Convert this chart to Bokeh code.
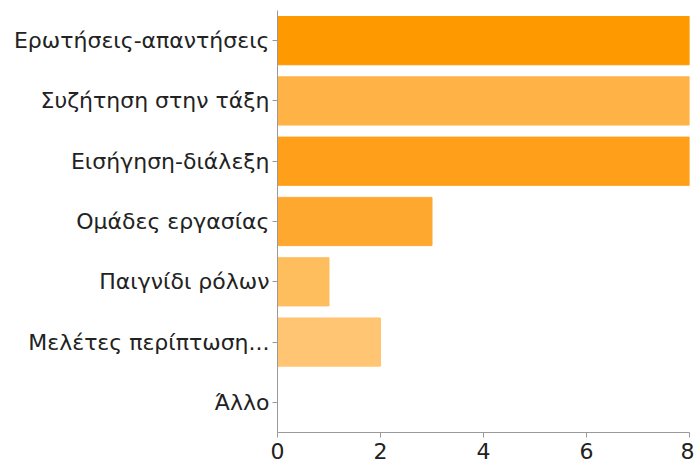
from bokeh.plotting import figure
from bokeh.embed import file_html
from bokeh.resources import INLINE
from bokeh.models import ColumnDataSource, FixedTicker

categories = ["Ερωτήσεις-απαντήσεις", "Συζήτηση στην τάξη", "Εισήγηση-διάλεξη",
              "Ομάδες εργασίας", "Παιγνίδι ρόλων", "Μελέτες περίπτωση...", "Άλλο"]
counts = [8, 8, 8, 3, 1, 2, 0]
x_ticks = [0, 2, 4, 6, 8]

bar_colors = ["#FF9900", "#FFB347", "#FF9F1A", "#FFA830", "#FFBE5E", "#FFC573", "#FFD08A"]

source = ColumnDataSource(dict(cat=categories, val=counts, color=bar_colors))

p = figure(y_range=list(reversed(categories)), x_range=(0, 8),
           width=694, height=467, output_backend="svg", toolbar_location=None,
           min_border_left=277, min_border_right=5, min_border_top=10, min_border_bottom=35)

p.hbar(y="cat", right="val", left=0, height=0.8, color="color", source=source)

p.outline_line_color = None
p.xgrid.grid_line_color = None
p.ygrid.grid_line_color = None
p.y_range.range_padding = 0

font = "DejaVu Sans"
for ax in (p.xaxis[0], p.yaxis[0]):
    ax.axis_line_color = "#9a9a9a"
    ax.major_tick_line_color = "#9a9a9a"
    ax.minor_tick_line_color = None
    ax.major_label_text_font = font
    ax.major_label_text_font_size = "22px"
    ax.major_label_text_color = "#222222"
    ax.major_tick_in = 0
    ax.major_tick_out = 5

p.yaxis.major_label_standoff = 3
p.xaxis.major_label_standoff = 5
p.xaxis.ticker = FixedTicker(ticks=x_ticks)

open("out.html", "w").write(file_html(p, INLINE))
